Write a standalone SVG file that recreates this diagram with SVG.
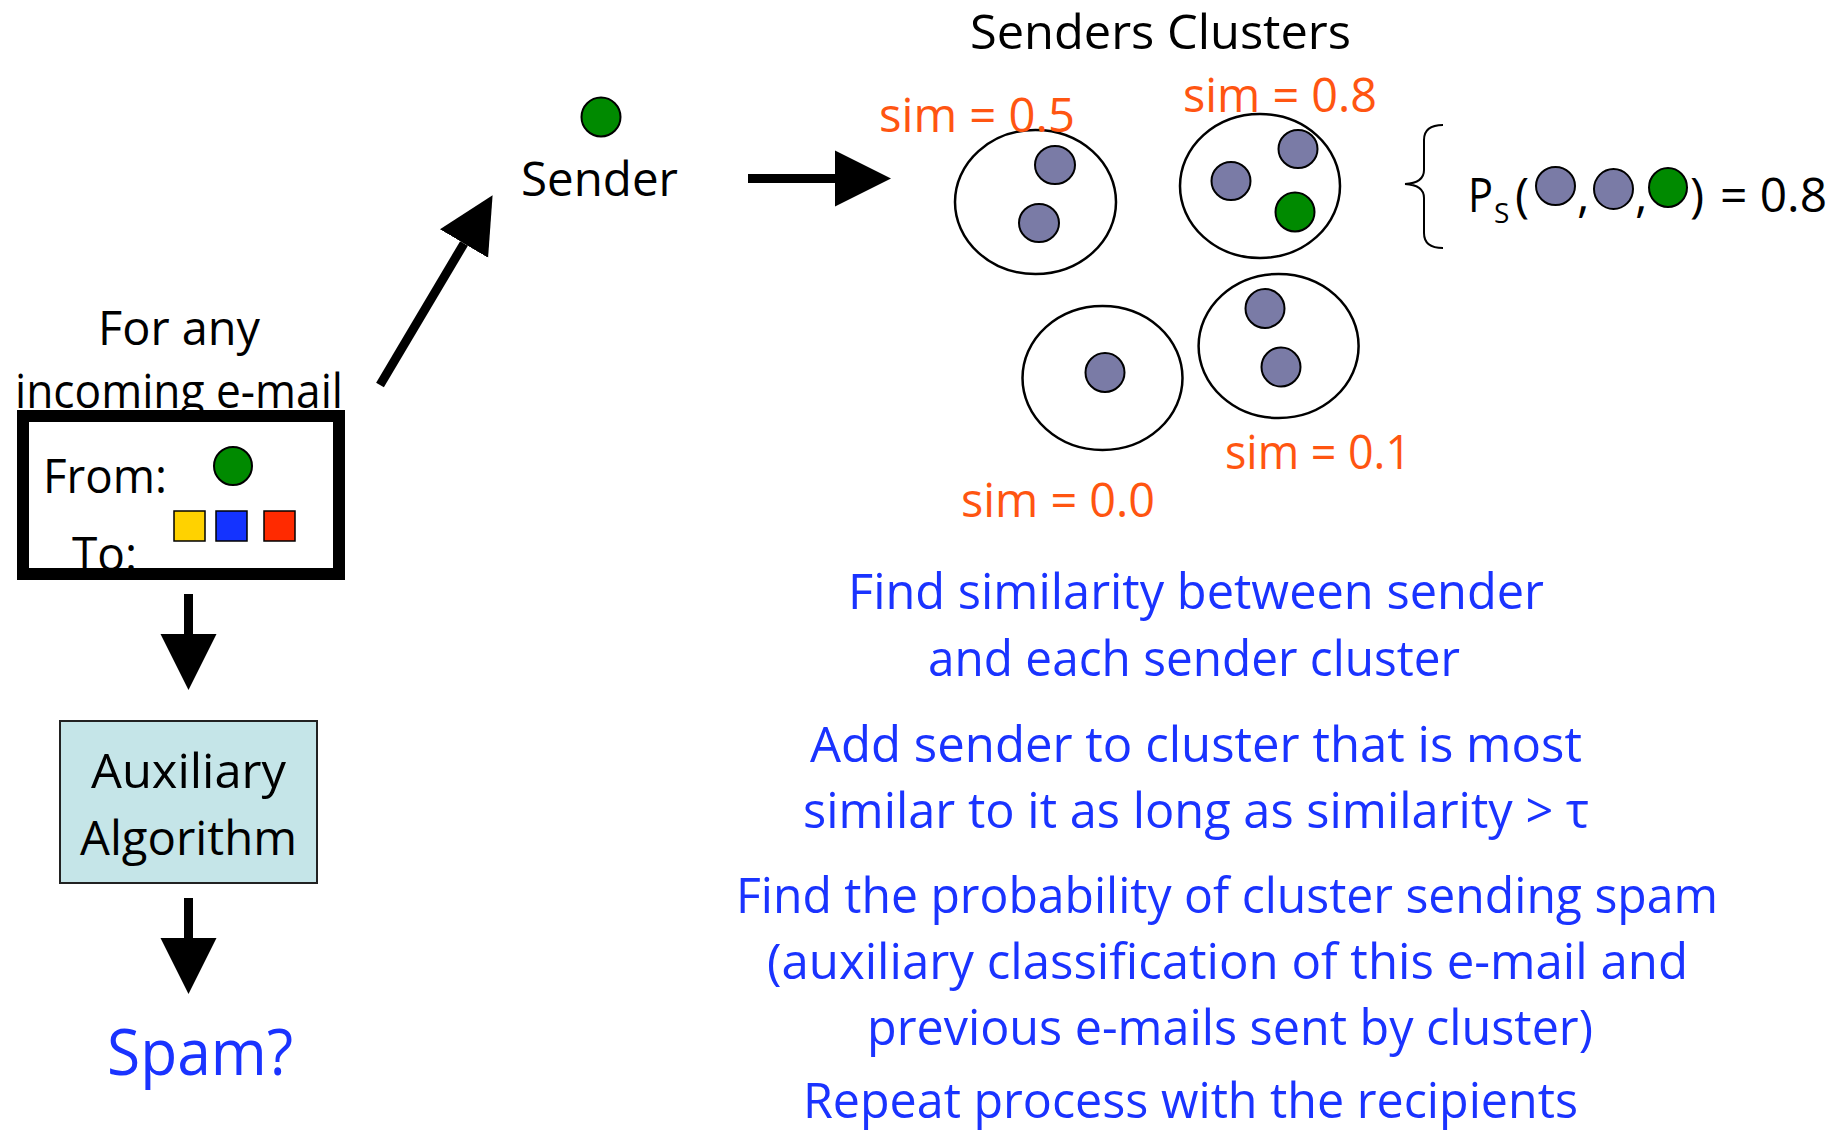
<svg xmlns="http://www.w3.org/2000/svg" width="1846" height="1136" viewBox="0 0 1846 1136">
<style>
  text { font-family: "Open Sans", "Liberation Sans", sans-serif; }
  .k { fill: #000; font-size: 48px; }
  .sub { fill: #000; font-size: 28px; }
  .o { fill: #ff5511; font-size: 48px; }
  .b { fill: #1a33ff; font-size: 50px; }
  .cl { fill: #fff; stroke: #000; stroke-width: 2.5; }
  .dot { fill: #7a7ba6; stroke: #000; stroke-width: 2; }
  .grn { fill: #008a00; stroke: #000; stroke-width: 2; }
  .arr { stroke: #000; stroke-width: 9; fill: none; marker-end: url(#head); }
</style>
<defs>
  <marker id="head" markerUnits="userSpaceOnUse" markerWidth="57" markerHeight="57" refX="0" refY="28" orient="auto" viewBox="0 0 57 56">
    <path d="M0,0 L56,28 L0,56 Z" fill="#000"/>
  </marker>
</defs>
<rect width="1846" height="1136" fill="#fff"/>

<g id="connectors">
  <line class="arr" x1="188.5" y1="594" x2="188.5" y2="634"/>
  <line class="arr" x1="188.5" y1="898" x2="188.5" y2="938"/>
  <line class="arr" x1="380" y1="385" x2="464" y2="243.5"/>
  <line class="arr" x1="748" y1="178.5" x2="835" y2="178.5"/>
</g>

<g id="incoming">
  <text class="k" x="98" y="345" textLength="162" lengthAdjust="spacingAndGlyphs">For any</text>
  <rect x="23" y="416" width="316" height="158" fill="#fff"/>
  <text class="k" x="15" y="408" textLength="328" lengthAdjust="spacingAndGlyphs">incoming e-mail</text>
  <text class="k" x="43" y="493" textLength="124" lengthAdjust="spacingAndGlyphs">From:</text>
  <text class="k" x="72" y="571" textLength="65" lengthAdjust="spacingAndGlyphs">To:</text>
  <circle class="grn" cx="233" cy="466" r="19"/>
  <rect x="174" y="511" width="31" height="30" fill="#ffd200" stroke="#000" stroke-width="1.5"/>
  <rect x="216" y="511" width="31" height="30" fill="#1433ff" stroke="#000" stroke-width="1.5"/>
  <rect x="264" y="511" width="31" height="30" fill="#ff2a00" stroke="#000" stroke-width="1.5"/>
  <rect x="23" y="416" width="316" height="158" fill="none" stroke="#000" stroke-width="12"/>
</g>

<g id="auxiliary">
  <rect x="60" y="721" width="257" height="162" fill="#c5e5e8" stroke="#222" stroke-width="2"/>
  <text class="k" x="91" y="788" textLength="195" lengthAdjust="spacingAndGlyphs">Auxiliary</text>
  <text class="k" x="80" y="855" textLength="217" lengthAdjust="spacingAndGlyphs">Algorithm</text>
</g>

<g id="spam">
  <text x="107" y="1075" fill="#1a33ff" font-size="64" textLength="186" lengthAdjust="spacingAndGlyphs">Spam?</text>
</g>

<g id="sender">
  <circle class="grn" cx="601" cy="117" r="19.5"/>
  <text class="k" x="521" y="196" textLength="157" lengthAdjust="spacingAndGlyphs">Sender</text>
</g>

<g id="clusters">
  <text class="k" x="970" y="49" textLength="381" lengthAdjust="spacingAndGlyphs">Senders Clusters</text>

  <g id="cluster1">
    <ellipse class="cl" cx="1035.5" cy="202" rx="80.5" ry="72"/>
    <ellipse class="dot" cx="1055" cy="165" rx="20" ry="19"/>
    <ellipse class="dot" cx="1039" cy="223" rx="20" ry="19"/>
    <text class="o" x="879" y="132" textLength="196" lengthAdjust="spacingAndGlyphs">sim = 0.5</text>
  </g>

  <g id="cluster2">
    <ellipse class="cl" cx="1260" cy="186" rx="80" ry="72"/>
    <ellipse class="dot" cx="1298" cy="149" rx="19.5" ry="19"/>
    <ellipse class="dot" cx="1231" cy="181" rx="19.5" ry="19"/>
    <ellipse class="grn" cx="1295" cy="212" rx="19.5" ry="19.5"/>
    <text class="o" x="1183" y="112" textLength="194" lengthAdjust="spacingAndGlyphs">sim = 0.8</text>
  </g>

  <g id="cluster3">
    <ellipse class="cl" cx="1102.5" cy="378" rx="80" ry="72"/>
    <ellipse class="dot" cx="1105" cy="372.5" rx="19.5" ry="19.5"/>
    <text class="o" x="961" y="517" textLength="194" lengthAdjust="spacingAndGlyphs">sim = 0.0</text>
  </g>

  <g id="cluster4">
    <ellipse class="cl" cx="1278.6" cy="346" rx="80" ry="72"/>
    <ellipse class="dot" cx="1265" cy="308.5" rx="19.5" ry="19.5"/>
    <ellipse class="dot" cx="1281" cy="367" rx="19.5" ry="19.5"/>
    <text class="o" x="1225" y="469" textLength="186" lengthAdjust="spacingAndGlyphs">sim = 0.1</text>
  </g>
</g>

<g id="probability">
  <path d="M1443,125 Q1424,125 1424,140 L1424,170 Q1424,183 1405,184 Q1424,185 1424,198 L1424,233 Q1424,248 1443,248" fill="none" stroke="#000" stroke-width="2"/>
  <text class="k" x="1468" y="212" textLength="25" lengthAdjust="spacingAndGlyphs">P</text>
  <text class="sub" x="1494" y="223">S</text>
  <text class="k" x="1515" y="212">(</text>
  <ellipse class="dot" cx="1555.5" cy="186" rx="19.5" ry="19"/>
  <text class="k" x="1577" y="212">,</text>
  <ellipse class="dot" cx="1613.5" cy="189" rx="19.5" ry="20"/>
  <text class="k" x="1635" y="212">,</text>
  <ellipse class="grn" cx="1668" cy="187.5" rx="19" ry="19.5"/>
  <text class="k" x="1690" y="212">)</text>
  <text class="k" x="1720" y="212" textLength="107" lengthAdjust="spacingAndGlyphs">= 0.8</text>
</g>

<g id="steps">
  <text class="b" x="848" y="609" textLength="696" lengthAdjust="spacingAndGlyphs">Find similarity between  sender</text>
  <text class="b" x="928" y="676" textLength="532" lengthAdjust="spacingAndGlyphs">and each sender cluster</text>
  <text class="b" x="810" y="762" textLength="772" lengthAdjust="spacingAndGlyphs">Add sender to cluster that is most</text>
  <text class="b" x="803" y="828" textLength="786" lengthAdjust="spacingAndGlyphs">similar to it as long as similarity &gt; τ</text>
  <text class="b" x="736" y="913" textLength="982" lengthAdjust="spacingAndGlyphs">Find the probability of cluster sending spam</text>
  <text class="b" x="767" y="979" textLength="921" lengthAdjust="spacingAndGlyphs">(auxiliary classification of this e-mail and</text>
  <text class="b" x="867" y="1045" textLength="726" lengthAdjust="spacingAndGlyphs">previous e-mails sent by cluster)</text>
  <text class="b" x="803" y="1118" textLength="775" lengthAdjust="spacingAndGlyphs">Repeat process with the recipients</text>
</g>
</svg>
